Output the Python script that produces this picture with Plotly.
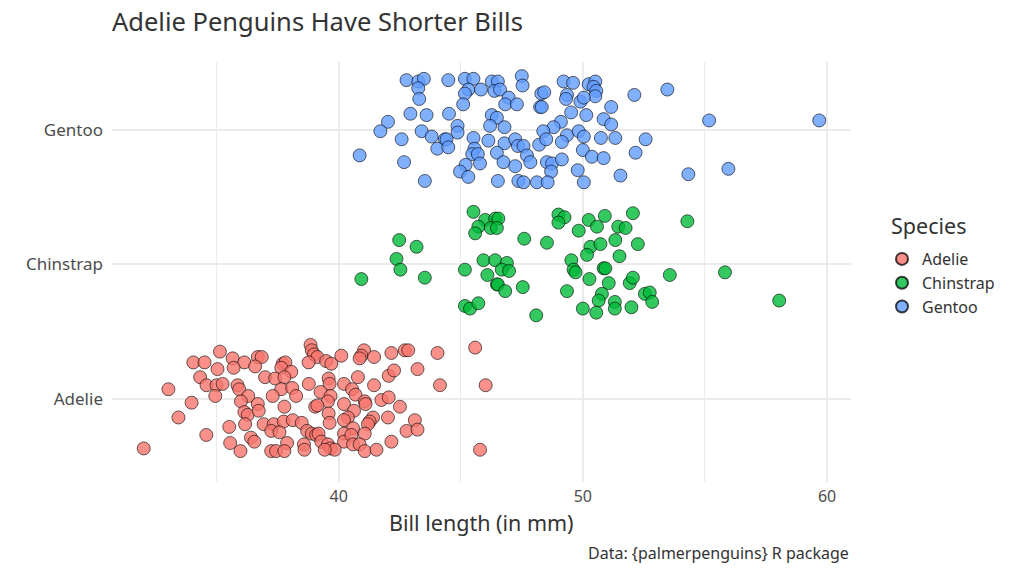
import plotly.graph_objects as go

species = ["Adelie", "Chinstrap", "Gentoo"]
species_colors = ["rgba(248,118,109,0.8)", "rgba(0,186,56,0.8)", "rgba(97,156,255,0.8)"]

adelie_bill = [35.14, 34.05, 34.51, 35.04, 34.33, 34.59, 35.00, 35.25, 34.95, 33.03, 33.98, 33.44, 34.58, 32.02,
               38.85, 38.90, 38.99, 39.13, 38.77, 35.66, 36.14, 36.69, 36.85, 36.58, 35.70, 37.71, 37.82, 37.65,
               38.06, 36.99, 37.40, 37.78, 38.78, 35.86, 35.93, 37.65, 38.10, 38.26, 37.30, 36.30, 36.00, 36.69,
               37.78, 39.04, 36.14, 36.28, 36.73, 36.17, 36.93, 37.34, 37.75, 38.12, 38.49, 35.52, 37.24, 37.58,
               38.71, 38.90, 39.08, 36.41, 36.55, 35.56, 37.89, 38.58, 38.60, 35.98, 37.24, 37.44, 37.78,
               39.49, 39.70, 40.11, 41.04, 40.93, 40.86, 41.45, 42.16, 42.71, 42.85, 39.59, 39.63, 40.22, 40.79,
               41.45, 42.05, 42.27, 39.26, 39.67, 39.56, 40.55, 40.69, 41.07, 41.10, 41.75, 42.05, 42.51, 39.13,
               40.22, 39.59, 40.63, 40.38, 40.22, 41.41, 41.27, 41.20, 42.02, 39.63, 40.59, 41.07, 42.78, 39.18,
               39.29, 40.22, 40.22, 40.52, 40.59, 40.86, 41.07, 41.55, 42.16, 39.56, 39.67, 39.84, 39.43,
               44.05, 45.59, 43.23, 44.15, 46.02, 43.12, 43.23, 45.79]
adelie_jitter = [0.35, 0.27, 0.27, 0.22, 0.16, 0.10, 0.10, 0.11, 0.02, 0.07, -0.03, -0.14, -0.27, -0.37,
                 0.40, 0.36, 0.33, 0.31, 0.27, 0.30, 0.27, 0.31, 0.31, 0.24, 0.23, 0.26, 0.27, 0.23,
                 0.20, 0.16, 0.15, 0.16, 0.11, 0.10, 0.07, 0.07, 0.08, 0.02, 0.02, 0.02, -0.02, -0.04,
                 -0.06, -0.06, -0.10, -0.12, -0.09, -0.19, -0.19, -0.19, -0.17, -0.16, -0.18, -0.21, -0.24, -0.25,
                 -0.24, -0.26, -0.27, -0.29, -0.32, -0.33, -0.33, -0.34, -0.38, -0.39, -0.39, -0.39, -0.39,
                 0.28, 0.26, 0.32, 0.36, 0.32, 0.30, 0.31, 0.34, 0.36, 0.36, 0.15, 0.11, 0.11, 0.16,
                 0.10, 0.17, 0.21, 0.05, 0.02, -0.02, 0.07, 0.03, -0.02, -0.04, -0.01, 0.01, -0.06, -0.05,
                 -0.04, -0.11, -0.09, -0.14, -0.16, -0.14, -0.17, -0.19, -0.14, -0.18, -0.22, -0.26, -0.24, -0.26,
                 -0.32, -0.26, -0.32, -0.27, -0.34, -0.34, -0.39, -0.38, -0.32, -0.34, -0.37, -0.38, -0.38,
                 0.34, 0.38, 0.22, 0.10, 0.10, -0.16, -0.23, -0.38]

chinstrap_bill = [45.52, 46.00, 46.41, 45.72, 46.23, 45.59, 42.48, 43.19, 42.37, 42.53, 40.93, 43.53, 45.17,
                  45.93, 46.41, 46.09, 46.48, 45.17, 45.38, 45.72,
                  46.54, 49.00, 49.25, 49.00, 50.24, 50.90, 52.05, 46.48, 49.83, 50.58, 51.45, 51.75, 47.60,
                  48.53, 51.33, 50.31, 50.72, 50.17, 52.25, 51.50, 46.89, 46.68, 46.98, 49.53, 49.62, 49.70,
                  50.85, 50.92, 50.27, 51.06, 51.92, 52.05, 46.52, 46.82, 47.54, 49.35, 50.78, 50.65, 52.54,
                  50.00, 50.55, 51.31, 51.31, 51.99, 48.09,
                  54.28, 53.56, 55.82, 52.74, 52.84, 58.04]
chinstrap_jitter = [0.39, 0.33, 0.34, 0.28, 0.27, 0.23, 0.18, 0.13, 0.04, -0.04, -0.11, -0.10, -0.04,
                    0.03, 0.03, -0.08, -0.15, -0.31, -0.33, -0.29,
                    0.34, 0.37, 0.35, 0.31, 0.33, 0.36, 0.38, 0.27, 0.25, 0.28, 0.28, 0.27, 0.19,
                    0.16, 0.18, 0.13, 0.15, 0.07, 0.15, 0.06, 0.01, -0.04, -0.05, 0.03, -0.04, -0.06,
                    -0.03, -0.03, -0.11, -0.14, -0.14, -0.10, -0.15, -0.20, -0.17, -0.20, -0.22, -0.27, -0.22,
                    -0.33, -0.36, -0.28, -0.33, -0.32, -0.38,
                    0.32, -0.08, -0.06, -0.21, -0.28, -0.27]

gentoo_bill = [42.78, 43.26, 43.49, 43.26, 43.30, 42.94, 43.60, 42.02, 41.71, 43.40, 43.81, 42.58, 44.35,
               44.04, 40.86, 42.68, 43.53,
               44.49, 45.17, 45.52, 45.31, 45.17, 45.10, 45.83, 46.27, 46.52, 46.38, 46.61, 47.50, 47.53,
               46.96, 46.82, 47.30, 48.30, 48.25, 44.52, 46.27, 46.48, 46.20, 46.79, 44.87, 44.87, 44.42,
               44.49, 45.52, 46.13, 46.79, 47.23, 47.34, 47.57, 48.21, 45.56, 45.47, 45.70, 46.48, 47.71,
               47.85, 45.79, 46.75, 47.23, 45.20, 44.97, 45.31, 46.52, 47.36, 47.57, 48.12,
               49.21, 49.60, 50.24, 50.51, 50.44, 50.55, 50.51, 48.42, 49.35, 49.31, 49.90, 50.04, 52.11,
               48.32, 51.16, 49.52, 50.14, 50.85, 51.16, 49.10, 48.80, 48.38, 48.50, 49.35, 49.83, 50.04,
               49.14, 50.74, 51.33, 50.00, 50.37, 50.85, 52.16, 48.53, 48.74, 49.14, 48.70, 49.79, 51.54,
               48.56, 50.04,
               53.46, 55.17, 59.68, 52.57, 54.32, 55.96]
gentoo_jitter = [0.37, 0.36, 0.38, 0.31, 0.23, 0.12, 0.11, 0.06, -0.01, -0.01, -0.05, -0.07, -0.07,
                 -0.14, -0.19, -0.24, -0.38,
                 0.37, 0.38, 0.38, 0.30, 0.27, 0.19, 0.30, 0.36, 0.36, 0.29, 0.30, 0.40, 0.33,
                 0.24, 0.19, 0.19, 0.27, 0.17, 0.12, 0.11, 0.09, 0.03, 0.02, 0.03, -0.02, -0.07,
                 -0.13, -0.06, -0.08, -0.10, -0.07, -0.12, -0.12, -0.11, -0.14, -0.18, -0.18, -0.17, -0.19,
                 -0.24, -0.25, -0.24, -0.27, -0.26, -0.31, -0.35, -0.38, -0.38, -0.39, -0.39,
                 0.36, 0.35, 0.34, 0.36, 0.32, 0.29, 0.25, 0.28, 0.26, 0.23, 0.21, 0.24, 0.26,
                 0.17, 0.17, 0.13, 0.11, 0.08, 0.04, 0.06, 0.02, -0.01, -0.07, -0.04, -0.01, -0.05,
                 -0.09, -0.06, -0.06, -0.15, -0.20, -0.21, -0.17, -0.24, -0.25, -0.22, -0.31, -0.30, -0.34,
                 -0.39, -0.39,
                 0.30, 0.07, 0.07, -0.07, -0.33, -0.29]

x_tick_vals = [40, 50, 60]
x_tick_text = ["40", "50", "60"]

series = [
    (adelie_bill, adelie_jitter),
    (chinstrap_bill, chinstrap_jitter),
    (gentoo_bill, gentoo_jitter),
]

FONT = "'Noto Sans', 'Source Sans Pro', sans-serif"
PLOT_L, PLOT_R, PLOT_T, PLOT_B = 112, 851, 62, 482
PW, PH = PLOT_R - PLOT_L, PLOT_B - PLOT_T

fig = go.Figure()
for i, (name, (bill, jit)) in enumerate(zip(species, series)):
    fig.add_trace(go.Scatter(
        x=bill,
        y=[i + 1 + j for j in jit],
        mode="markers",
        name=name,
        marker=dict(size=13, color=species_colors[i],
                    line=dict(color="rgba(0,0,0,0.75)", width=0.8)),
    ))

fig.update_layout(
    width=1024, height=576,
    margin=dict(l=PLOT_L, r=1024 - PLOT_R, t=PLOT_T, b=576 - PLOT_B),
    paper_bgcolor="white", plot_bgcolor="white",
    font=dict(family=FONT, color="#4d4d4d"),
    title=dict(text="Adelie Penguins Have Shorter Bills", x=0, xref="paper", xanchor="left",
               y=1 - 22 / 576, yref="container", yanchor="middle",
               font=dict(size=25.5, color="#333333", family=FONT)),
    showlegend=True,
    legend=dict(font=dict(size=16, color="#333333"),
                x=(882 - PLOT_L) / PW, xanchor="left",
                y=(PLOT_B - 242) / PH, yanchor="top",
                bgcolor="rgba(0,0,0,0)", itemsizing="constant", tracegroupgap=0),
    xaxis=dict(range=[30.72, 60.98], tickvals=x_tick_vals, ticktext=x_tick_text,
               showgrid=True, gridcolor="#ebebeb", gridwidth=1.8, zeroline=False,
               showline=False, ticks="", tickfont=dict(size=16, color="#4d4d4d"),
               ticklabelstandoff=3,
               minor=dict(tickvals=[35, 45, 55], showgrid=True, gridcolor="#ebebeb", gridwidth=1.0)),
    yaxis=dict(range=[0.38, 3.505], tickvals=[1, 2, 3], ticktext=species,
               showgrid=True, gridcolor="#ebebeb", gridwidth=1.8, zeroline=False,
               showline=False, ticks="", tickfont=dict(size=17, color="#4d4d4d"),
               ticklabelstandoff=8),
    annotations=[
        dict(text="Species", x=(889 - PLOT_L) / PW, y=(PLOT_B - 226) / PH, xref="paper", yref="paper",
             xanchor="left", yanchor="middle", showarrow=False,
             font=dict(size=21.5, color="#333333")),
        dict(text="Bill length (in mm)", x=0.5, y=-40 / PH, xref="paper", yref="paper",
             xanchor="center", yanchor="middle", showarrow=False,
             font=dict(size=21.5, color="#333333")),
        dict(text="Data: {palmerpenguins} R package", x=1, y=-71 / PH, xref="paper", yref="paper",
             xanchor="right", yanchor="middle", showarrow=False,
             font=dict(size=16, color="#333333")),
    ],
)

fig.write_html("out.html")
